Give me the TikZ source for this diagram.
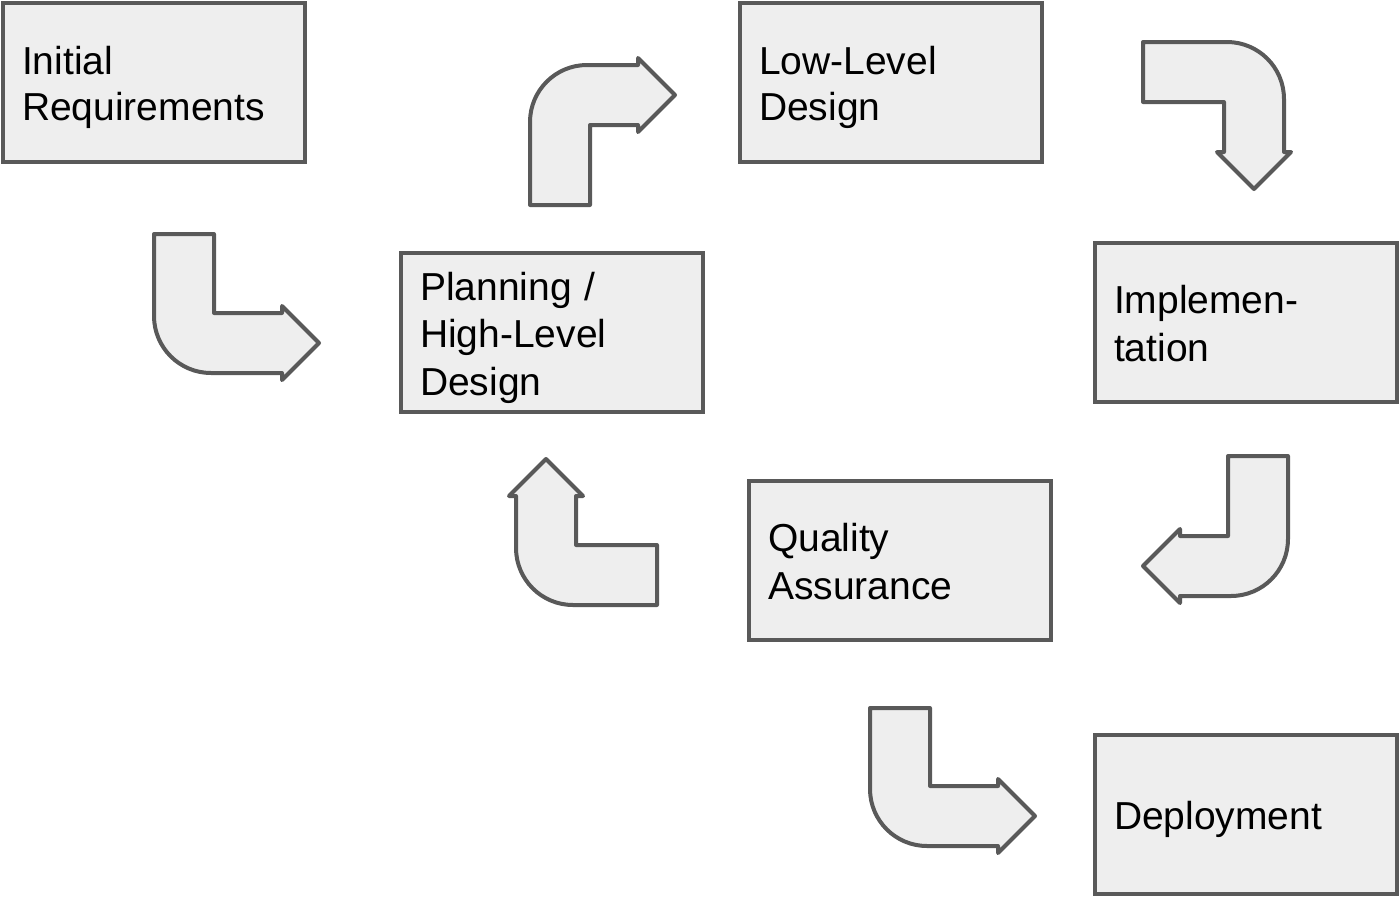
\documentclass[tikz,border=0pt]{standalone}
\usepackage{fontspec}
\setmainfont{Liberation Sans}
\definecolor{edge}{HTML}{595959}
\definecolor{boxfill}{HTML}{EEEEEE}
\newcommand{\lstrut}{\rule[-8pt]{0pt}{46.5pt}}
\newcommand{\bentarrowpath}[2]{%
  % #1 = distance along shaft to band, #2 = distance across to head base
  \draw[bentshape] (0,0) -- (60,0) -- (60,-#1) -- (#2,-#1) -- (#2,-#1+7)
    -- (#2+37,-#1-30) -- (#2,-#1-67) -- (#2,-#1-60) -- (57,-#1-60)
    .. controls (25.5,-#1-60) and (0,-#1-34.5) .. (0,-#1-3) -- cycle;}
\begin{document}
\begin{tikzpicture}[x=1pt,y=1pt,
  stagebox/.style={draw=edge, fill=boxfill, line width=4pt, rectangle,
    minimum width=302pt, minimum height=159pt, text width=264pt, inner xsep=19pt,
    align=left, font=\fontsize{39}{46.5}\selectfont},
  bentshape/.style={draw=edge, fill=boxfill, line width=4pt, line join=round}]
\useasboundingbox (0,0) rectangle (1400,-898);

\node[stagebox] (req) at (154,-82.5) {\lstrut Initial\\\lstrut Requirements};
\node[stagebox] (lld) at (891,-82.5) {\lstrut Low-Level\\\lstrut Design};
\node[stagebox] (hld) at (552,-332.5) {\lstrut Planning /\\\lstrut High-Level\\\lstrut Design};
\node[stagebox] (impl) at (1246,-322) {\lstrut Implemen-\\\lstrut tation};
\node[stagebox] (qa) at (900,-560) {\lstrut Quality\\\lstrut Assurance};
\node[stagebox] (dep) at (1246,-814.5) {\lstrut Deployment};

% req -> hld
\begin{scope}[shift={(154,-234)}]
  \bentarrowpath{79}{128}
\end{scope}
% hld -> lld
\begin{scope}[shift={(530,-205)}, yscale=-1]
  \bentarrowpath{80}{108}
\end{scope}
% lld -> impl
\begin{scope}[cm={0,-1,-1,0,(1143,-42)}]
  \bentarrowpath{81}{110}
\end{scope}
% impl -> qa
\begin{scope}[shift={(1288,-456)}, xscale=-1]
  \bentarrowpath{80}{108}
\end{scope}
% qa -> hld
\begin{scope}[cm={0,1,1,0,(657,-605)}]
  \bentarrowpath{81}{109}
\end{scope}
% qa -> dep
\begin{scope}[shift={(870,-708)}]
  \bentarrowpath{78}{128}
\end{scope}
\end{tikzpicture}
\end{document}
